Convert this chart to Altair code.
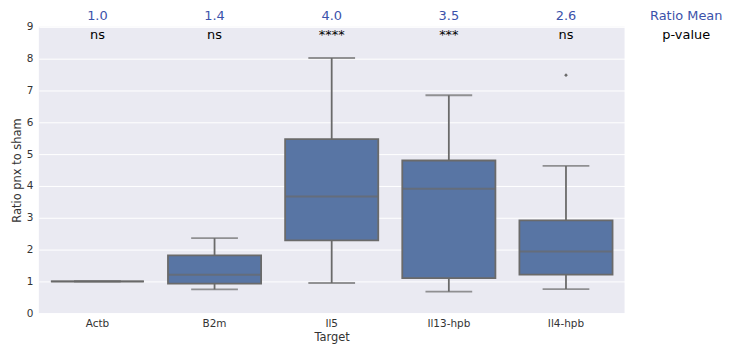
import altair as alt
import pandas as pd

targets = ["Actb", "B2m", "Il5", "Il13-hpb", "Il4-hpb"]
lower = [1.0, 0.75, 0.95, 0.68, 0.76]
q1 = [1.0, 0.93, 2.29, 1.10, 1.21]
median = [1.0, 1.21, 3.67, 3.91, 1.94]
q3 = [1.0, 1.82, 5.47, 4.80, 2.92]
upper = [1.0, 2.36, 8.02, 6.85, 4.63]
means = ["1.0", "1.4", "4.0", "3.5", "2.6"]
pvalues = ["ns", "ns", "****", "***", "ns"]
outlier_targets = ["Il4-hpb"]
outlier_values = [7.48]
y_ticks = [0, 1, 2, 3, 4, 5, 6, 7, 8, 9]

df = pd.DataFrame({"Target": targets, "lower": lower, "q1": q1, "median": median,
                   "q3": q3, "upper": upper, "mean": means, "p": pvalues})
out_df = pd.DataFrame({"Target": outlier_targets, "value": outlier_values})

BOX = "#5875a4"
LINE = "#6a6a6a"

xscale = alt.Scale(domain=targets, paddingInner=0, paddingOuter=0)
yscale = alt.Scale(domain=[0, 9], nice=False)

xaxis = alt.Axis(title="Target", labelAngle=0, ticks=False, domain=False,
                 grid=False, labelFontSize=10.5, titleFontSize=11.5,
                 labelPadding=5, titlePadding=3, labelColor="#333333",
                 titleColor="#333333", titleFontWeight="normal")
yaxis = alt.Axis(title="Ratio pnx to sham", values=y_ticks, labelOverlap=False,
                 ticks=False, domain=False, gridColor="white",
                 gridWidth=1, labelFontSize=10.5, titleFontSize=11.5,
                 labelPadding=6, titlePadding=4, labelColor="#333333",
                 titleColor="#333333", titleFontWeight="normal")

x = alt.X("Target:N", scale=xscale, sort=targets, axis=xaxis)


def Y(field):
    return alt.Y(field, scale=yscale, axis=yaxis, title="Ratio pnx to sham")


base = alt.Chart(df)

whisker = base.mark_rule(color=LINE, strokeWidth=1.8).encode(
    x=x, y=Y("lower:Q"), y2="upper:Q")

box = base.mark_bar(width=alt.RelativeBandSize(0.795), color=BOX, stroke=LINE,
                    strokeWidth=1.8).encode(x=x, y=Y("q1:Q"), y2="q3:Q")

med = base.mark_tick(color=LINE, size=93, thickness=2, orient="horizontal").encode(
    x=x, y=Y("median:Q"))
cap_lo = base.mark_tick(color=LINE, size=47, thickness=1.8, orient="horizontal").encode(
    x=x, y=Y("lower:Q"))
cap_hi = base.mark_tick(color=LINE, size=47, thickness=1.8, orient="horizontal").encode(
    x=x, y=Y("upper:Q"))

fliers = alt.Chart(out_df).mark_point(shape="diamond", filled=True, color=LINE,
                                      size=14, opacity=1).encode(
    x=x, y=Y("value:Q"))

mean_txt = base.mark_text(color="#3b52aa", fontSize=13, baseline="middle",
                          font="DejaVu Sans").encode(
    x=x, y=alt.value(-11), text="mean:N")
p_txt = base.mark_text(color="black", fontSize=13, baseline="middle",
                       font="DejaVu Sans").encode(
    x=x, y=alt.value(8), text="p:N")

label_df = pd.DataFrame({"t": ["Ratio Mean", "p-value"], "c": ["#3b52aa", "black"],
                         "row": [-11, 8]})
side_lbl = alt.Chart(label_df).mark_text(fontSize=13, baseline="middle",
                                         font="DejaVu Sans").encode(
    x=alt.value(651), y=alt.Y("row:Q", scale=None),
    text="t:N", color=alt.Color("c:N", scale=None))

chart = alt.layer(whisker, box, med, cap_lo, cap_hi, fliers, mean_txt, p_txt, side_lbl).properties(
    width=589, height=288,
    autosize=alt.AutoSizeParams(type="none"),
    padding={"left": 31, "top": 18, "right": 100, "bottom": 30},
    background="white",
).configure_view(fill="#eaeaf2", stroke=None).configure_axis(
    labelFont="DejaVu Sans", titleFont="DejaVu Sans")

chart.save("out.html", embed_options={"renderer": "svg", "actions": False})
